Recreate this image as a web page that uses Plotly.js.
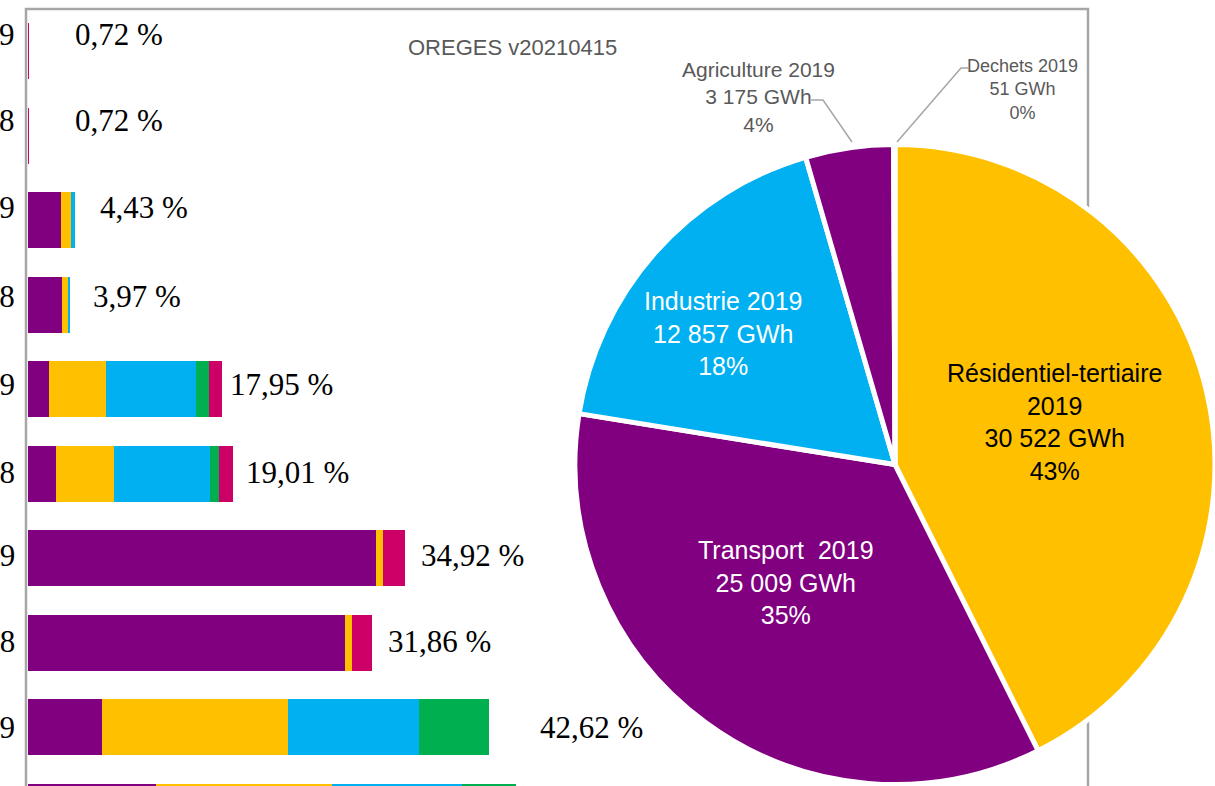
<!DOCTYPE html>
<html>
<head>
<meta charset="utf-8">
<script src="https://cdn.plot.ly/plotly-3.0.1.min.js"></script>
<style>html,body{margin:0;padding:0;background:#fff;}#chart{width:1215px;height:786px;}</style>
</head>
<body>
<div id="chart"></div>
<script>
// ---------- data ----------
const categories = ["Déchets 2019","Déchets 2018","Agriculture 2019","Agriculture 2018","Industrie 2019","Industrie 2018","Transport 2019","Transport 2018","Résidentiel-tertiaire 2019","Résidentiel-tertiaire 2018"];
const seriesNames = ["Produits pétroliers","Gaz","Électricité","EnR thermiques","Autres"];
const petrole = [0, 0, 3.08, 3.20, 1.97, 2.63, 32.22, 29.38, 6.84, 11.89];
const gaz     = [0, 0, 0.93, 0.58, 5.33, 5.33, 0.61, 0.61, 17.22, 16.24];
const elec    = [0, 0, 0.34, 0.14, 8.27, 8.92, 0, 0, 12.15, 12.05];
const enr     = [0, 0, 0.08, 0.05, 1.21, 0.85, 0, 0, 6.41, 4.95];
const autres  = [0.15, 0.15, 0, 0, 1.17, 1.28, 2.09, 1.87, 0, 0];
const shares  = [0.72, 0.72, 4.43, 3.97, 17.95, 19.01, 34.92, 31.86, 42.62, null];

const pieLabels = ["Résidentiel-tertiaire 2019","Transport  2019","Industrie 2019","Agriculture 2019","Dechets 2019"];
const pieValues = [30522, 25009, 12857, 3175, 51];
const sourceText = "OREGES v20210415";

// ---------- styles / positions ----------
const W = 1215, H = 786;
const seriesColors = ["#800080","#FFC000","#00B0F0","#00B050","#CC0066"];
const pieColors = ["#FFC000","#800080","#00B0F0","#800080","#00B050"];
const pieTextColors = ["#000000","#FFFFFF","#FFFFFF","#595959","#595959"];
const pieTextSizes = [25, 25, 25, 21, 18];
const pieTextPos = [[1054,422],[786,582],[723,333],[758,97],[1022,90]]; // px centres
const labelGap = [3.49, 3.49, 2.06, 1.87, 0.55, 1.00, 1.23, 1.31, 4.53];
const pxPerPct = 10.82, axisLeft = 27.5;
const rowTop = 51, rowStep = 84.5;

function pxX(x){ return x / W; }
function pxY(y){ return 1 - y / H; }
function fmtThousands(v){ return String(v).replace(/\B(?=(\d{3})+(?!\d))/g, " "); }

const serifFont = "Liberation Serif, Times New Roman, serif";
const sansFont = "Liberation Sans, Arial, sans-serif";

const series = [petrole, gaz, elec, enr, autres];
const traces = series.map((s, k) => ({
  type: "bar", orientation: "h", name: seriesNames[k],
  y: categories, x: s,
  marker: {color: seriesColors[k], line: {width: 0}},
  showlegend: false, hoverinfo: "x+y+name"
}));

const pieTotal = pieValues.reduce((a, b) => a + b, 0);
traces.push({
  type: "pie", labels: pieLabels, values: pieValues, sort: false,
  direction: "clockwise", rotation: 0, textinfo: "none",
  marker: {colors: pieColors, line: {color: "#FFFFFF", width: 5}},
  domain: {x: [575 / W, 1], y: [0, 0.818]},
  showlegend: false, hoverinfo: "label+value+percent"
});

const annotations = [];
const labelShift = [17, 15, 13, 8, 5, 1, 3, 1, 0];
categories.forEach((c, i) => {
  const shift = i < labelShift.length ? labelShift[i] : 0;
  annotations.push({
    xref: "x", yref: "y", x: 0, y: c, text: c, showarrow: false,
    xanchor: "right", yanchor: "middle", xshift: -11, yshift: shift,
    font: {family: serifFont, size: 31, color: "#000000"}
  });
  if (shares[i] != null) {
    annotations.push({
      xref: "x", yref: "y", x: shares[i] + labelGap[i], y: c,
      text: shares[i].toFixed(2).replace(".", ",") + " %", showarrow: false,
      xanchor: "left", yanchor: "middle", yshift: shift,
      font: {family: serifFont, size: 31, color: "#000000"}
    });
  }
});

pieLabels.forEach((lab, i) => {
  let name = lab;
  if (name.length > 20) { const p = name.lastIndexOf(" "); name = name.slice(0, p) + "<br>" + name.slice(p + 1); }
  const pct = Math.round(pieValues[i] / pieTotal * 100);
  annotations.push({
    xref: "paper", yref: "paper", x: pxX(pieTextPos[i][0]), y: pxY(pieTextPos[i][1]),
    text: name + "<br>" + fmtThousands(pieValues[i]) + " GWh<br>" + pct + "%",
    showarrow: false, xanchor: "center", yanchor: "middle", align: "center",
    font: {family: sansFont, size: pieTextSizes[i], color: pieTextColors[i]}
  });
});

annotations.push({
  xref: "paper", yref: "paper", x: pxX(512), y: pxY(48), text: sourceText,
  showarrow: false, xanchor: "center", yanchor: "middle",
  font: {family: sansFont, size: 22, color: "#595959"}
});

function path(points){
  return points.map((p, j) => (j ? "L" : "M") + pxX(p[0]).toFixed(5) + "," + pxY(p[1]).toFixed(5)).join(" ");
}

const shapes = [
  {type: "rect", xref: "paper", yref: "paper", x0: pxX(26), x1: pxX(1088), y0: pxY(830), y1: pxY(9),
   line: {color: "#A6A6A6", width: 2.5}, fillcolor: "rgba(0,0,0,0)", layer: "below"},
  {type: "path", xref: "paper", yref: "paper", path: path([[811,100],[823,100],[852,142]]),
   line: {color: "#A6A6A6", width: 1.5}},
  {type: "path", xref: "paper", yref: "paper", path: path([[968,68],[961,68],[897,142]]),
   line: {color: "#A6A6A6", width: 1.5}}
];

const layout = {
  width: W, height: H,
  margin: {l: 0, r: 0, t: 0, b: 0},
  paper_bgcolor: "#FFFFFF", plot_bgcolor: "rgba(0,0,0,0)",
  barmode: "stack", bargap: 1 - 56 / rowStep,
  xaxis: {domain: [axisLeft / W, 1], range: [0, (W - axisLeft) / pxPerPct], visible: false, fixedrange: true},
  yaxis: {type: "category", categoryorder: "array", categoryarray: categories,
          range: [(H - rowTop) / rowStep, -rowTop / rowStep], showticklabels: false,
          showgrid: false, zeroline: false, showline: false, ticks: "", fixedrange: true},
  annotations: annotations, shapes: shapes, showlegend: false
};

Plotly.newPlot("chart", traces, layout, {displayModeBar: false, staticPlot: true});
</script>
</body>
</html>
